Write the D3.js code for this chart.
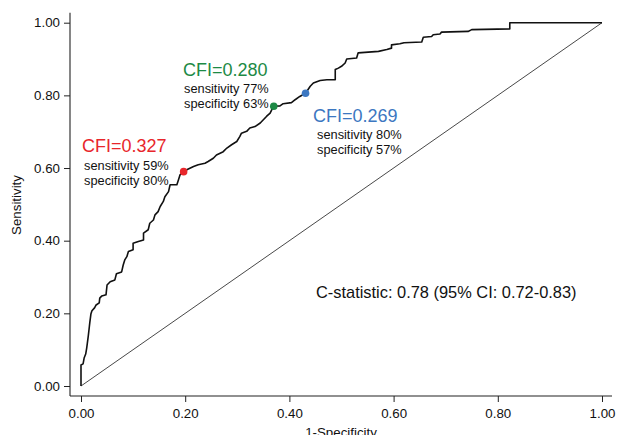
<!DOCTYPE html>
<html><head><meta charset="utf-8">
<script src="https://cdn.jsdelivr.net/npm/d3@7"></script>
<style>
html,body{margin:0;padding:0;background:#fff;}
text{font-family:"Liberation Sans",Arial,Helvetica,sans-serif;}
</style></head>
<body><svg id="c" width="617" height="435"></svg>
<script>
// ROC curve points: [1-specificity, sensitivity]
const rocFpr = [0,0,0.004,0.006,0.009,0.011,0.012,0.014,0.016,0.017,0.019,0.021,0.026,0.029,0.035,0.036,0.040,0.048,0.050,0.056,0.065,0.068,0.078,0.081,0.084,0.088,0.091,0.100,0.100,0.110,0.120,0.120,0.129,0.132,0.139,0.142,0.148,0.152,0.158,0.161,0.168,0.171,0.184,0.187,0.190,0.197,0.203,0.216,0.225,0.238,0.244,0.254,0.260,0.273,0.280,0.289,0.299,0.305,0.308,0.318,0.324,0.334,0.344,0.350,0.356,0.363,0.366,0.370,0.382,0.388,0.404,0.411,0.420,0.431,0.440,0.446,0.459,0.472,0.488,0.488,0.494,0.500,0.507,0.510,0.529,0.532,0.571,0.587,0.596,0.596,0.612,0.620,0.654,0.657,0.673,0.676,0.689,0.692,0.743,0.750,0.823,0.823,1.0];
const rocTpr = [0,0.058,0.061,0.077,0.088,0.105,0.116,0.138,0.163,0.176,0.198,0.207,0.215,0.223,0.229,0.242,0.248,0.251,0.278,0.287,0.292,0.309,0.314,0.333,0.347,0.356,0.370,0.375,0.393,0.398,0.402,0.421,0.430,0.448,0.457,0.471,0.480,0.494,0.508,0.521,0.535,0.554,0.554,0.567,0.581,0.590,0.595,0.604,0.609,0.613,0.618,0.627,0.636,0.645,0.655,0.664,0.673,0.687,0.696,0.701,0.710,0.714,0.724,0.733,0.742,0.751,0.760,0.770,0.771,0.777,0.780,0.788,0.797,0.806,0.825,0.834,0.841,0.843,0.843,0.871,0.875,0.880,0.889,0.900,0.903,0.917,0.921,0.926,0.930,0.939,0.942,0.945,0.947,0.960,0.962,0.967,0.969,0.974,0.976,0.981,0.983,1.0,1.0];

const cutLabels = ["CFI=0.327","CFI=0.280","CFI=0.269"];
const cutFpr = [0.197,0.370,0.431];
const cutTpr = [0.590,0.770,0.806];
const cutSens = [59,77,80];
const cutSpec = [80,63,57];
const cutColors = ["#e8262b","#1d8a45","#3c77c1"];

const xTicks = [0,0.2,0.4,0.6,0.8,1.0];
const yTicks = [0,0.2,0.4,0.6,0.8,1.0];
const cStat = "C-statistic: 0.78 (95% CI: 0.72-0.83)";

const svg = d3.select("#c");
const x = d3.scaleLinear().domain([0,1]).range([81,602]);
const y = d3.scaleLinear().domain([0,1]).range([386,22.7]);
const axisColor = "#222";

// axes
const gx = svg.append("g").attr("transform","translate(0,396)")
  .call(d3.axisBottom(x).tickValues(xTicks).tickFormat(d3.format(".2f")).tickSize(6).tickSizeOuter(0));
gx.select(".domain").remove();
gx.append("line").attr("x1",70).attr("x2",612).attr("stroke",axisColor).attr("stroke-width",1.1);
gx.selectAll(".tick line").attr("stroke",axisColor);
gx.selectAll(".tick text").attr("fill","#111").attr("font-size",13.3).attr("dy","0.95em")
  .attr("font-family","Liberation Sans, Arial, sans-serif");

const gy = svg.append("g").attr("transform","translate(70,0)")
  .call(d3.axisLeft(y).tickValues(yTicks).tickFormat(d3.format(".2f")).tickSize(6).tickSizeOuter(0));
gy.select(".domain").remove();
gy.append("line").attr("y1",12.7).attr("y2",396).attr("stroke",axisColor).attr("stroke-width",1.1);
gy.selectAll(".tick line").attr("stroke",axisColor);
gy.selectAll(".tick text").attr("fill","#111").attr("font-size",13.3).attr("x",-10)
  .attr("font-family","Liberation Sans, Arial, sans-serif");

svg.append("text").attr("transform","translate(21,205) rotate(-90)")
  .attr("text-anchor","middle").attr("font-size",13.3).attr("fill","#111").text("Sensitivity");
svg.append("text").attr("x",341).attr("y",436.5)
  .attr("text-anchor","middle").attr("font-size",13.3).attr("fill","#111").text("1-Specificity");

// reference diagonal
svg.append("line").attr("x1",x(0)).attr("y1",y(0)).attr("x2",x(1)).attr("y2",y(1))
  .attr("stroke","#333").attr("stroke-width",0.9);

// ROC
const pts = rocFpr.map((f,i)=>[f,rocTpr[i]]);
svg.append("path").datum(pts)
  .attr("d",d3.line().x(d=>x(d[0])).y(d=>y(d[1])))
  .attr("fill","none").attr("stroke","#111").attr("stroke-width",1.6).attr("stroke-linejoin","round");

// cut points
svg.selectAll("circle.cut").data(cutFpr).join("circle").attr("class","cut")
  .attr("cx",(d)=>x(d)).attr("cy",(d,i)=>y(cutTpr[i])).attr("r",3.8)
  .attr("fill",(d,i)=>cutColors[i]);

// annotations
const ann = [
  {lx:82, ly:151.5, sx:84, sy:170, dy:15},
  {lx:183, ly:76, sx:184, sy:93, dy:14.5},
  {lx:313, ly:122, sx:317, sy:139, dy:14.5}
];
ann.forEach((a,i)=>{
  svg.append("text").attr("x",a.lx).attr("y",a.ly).attr("font-size",18)
    .attr("fill",cutColors[i]).text(cutLabels[i]);
  svg.append("text").attr("x",a.sx).attr("y",a.sy).attr("font-size",12.8)
    .attr("fill","#111").text("sensitivity "+cutSens[i]+"%");
  svg.append("text").attr("x",a.sx).attr("y",a.sy+a.dy).attr("font-size",12.8)
    .attr("fill","#111").text("specificity "+cutSpec[i]+"%");
});

svg.append("text").attr("x",316).attr("y",298).attr("font-size",16.4)
  .attr("fill","#111").text(cStat);
</script>
</body></html>
